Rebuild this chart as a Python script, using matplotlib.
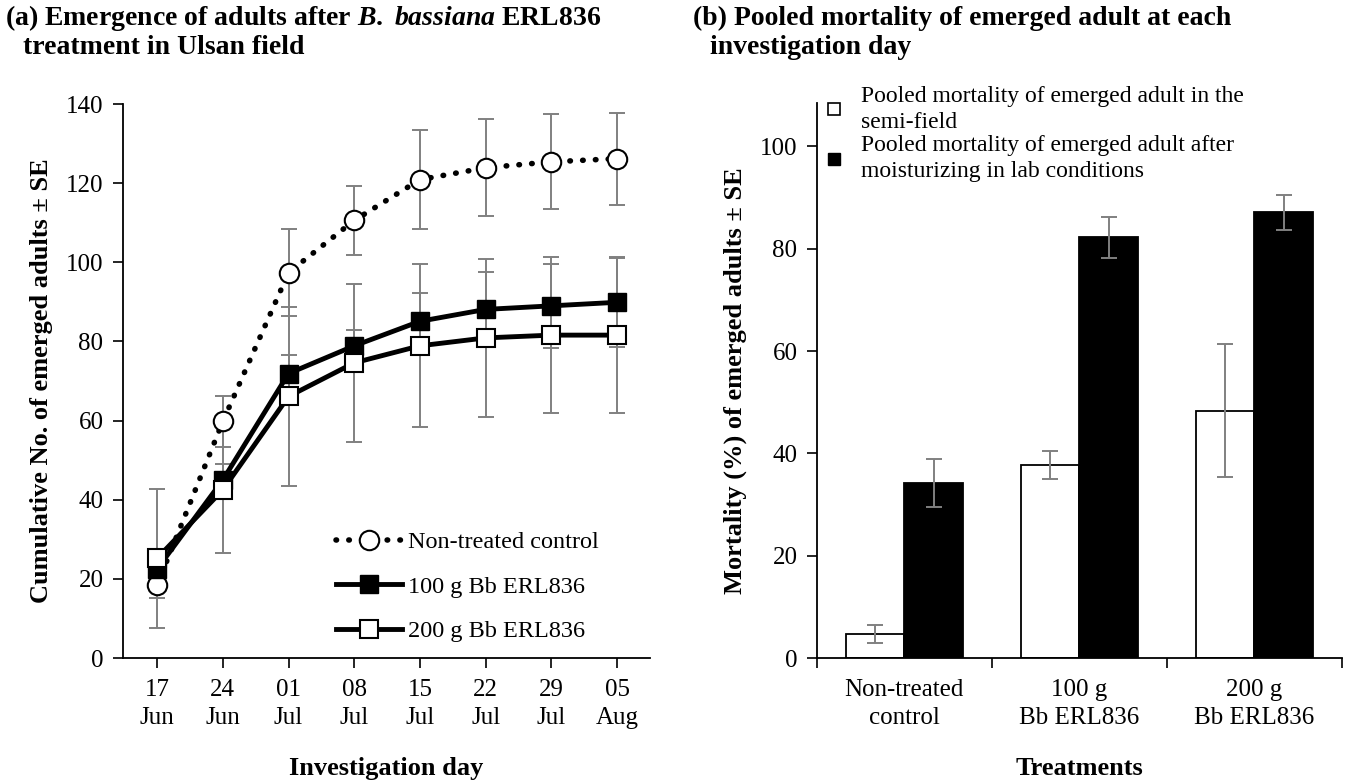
import matplotlib
matplotlib.use("Agg")
import matplotlib.pyplot as plt
from matplotlib.lines import Line2D
import numpy as np

plt.rcParams['font.family'] = ['Liberation Serif', 'DejaVu Serif']
plt.rcParams['mathtext.fontset'] = 'custom'
plt.rcParams['mathtext.rm'] = 'Liberation Serif:bold'
plt.rcParams['mathtext.it'] = 'Liberation Serif:bold:italic'
plt.rcParams['mathtext.bf'] = 'Liberation Serif:bold'

# (a) cumulative emergence
days = ['17\nJun', '24\nJun', '01\nJul', '08\nJul', '15\nJul', '22\nJul', '29\nJul', '05\nAug']
control = [18.4, 59.8, 97.4, 110.6, 120.9, 123.9, 125.4, 126.2]
control_se = [3.2, 6.5, 10.9, 8.7, 12.6, 12.3, 12.0, 11.6]
bb100 = [22.5, 45.0, 71.9, 78.9, 85.1, 88.1, 89.0, 89.9]
bb100_se = [3.0, 4.0, 4.7, 4.0, 7.1, 9.5, 10.6, 11.3]
bb200 = [25.2, 42.5, 66.1, 74.6, 78.9, 80.9, 81.6, 81.6]
bb200_se = [17.5, 16.0, 22.7, 20.0, 20.6, 20.0, 19.8, 19.7]

# (b) pooled mortality
treatments = ['Non-treated\ncontrol', '100 g\nBb ERL836', '200 g\nBb ERL836']
semi_field = [4.7, 37.7, 48.3]
semi_field_se = [1.8, 2.7, 13.0]
lab = [34.2, 82.2, 87.1]
lab_se = [4.7, 4.0, 3.4]

TICK = 18
LAB = 19

fig = plt.figure(figsize=(13.48, 7.84), dpi=100)
ax1 = fig.add_axes([0.0912, 0.1607, 0.391, 0.7066])
ax2 = fig.add_axes([0.606, 0.1607, 0.3895, 0.708])

grey = '#808080'
x = np.arange(len(days))
ekw = dict(ecolor=grey, elinewidth=1.4, capsize=6, capthick=1.4)

ax1.errorbar(x, bb200, yerr=bb200_se, fmt='none', zorder=2, **ekw)
ax1.errorbar(x, bb100, yerr=bb100_se, fmt='none', zorder=2, **ekw)
ax1.errorbar(x, control, yerr=control_se, fmt='none', zorder=2, **ekw)

ax1.plot(x, control, color='black', linestyle=(0, (0.1, 2.2)), linewidth=4,
         dash_capstyle='round', marker='o', markersize=14, markerfacecolor='white',
         markeredgecolor='black', markeredgewidth=1.5, label='Non-treated control', zorder=3)
ax1.plot(x, bb100, color='black', linewidth=3.5, marker='s', markersize=13,
         markerfacecolor='black', markeredgecolor='black', label='100 g Bb ERL836', zorder=4)
ax1.plot(x, bb200, color='black', linewidth=3.5, marker='s', markersize=13,
         markerfacecolor='white', markeredgecolor='black', markeredgewidth=1.5,
         label='200 g Bb ERL836', zorder=5)

ax1.set_xlim(-0.52, 7.5)
ax1.set_ylim(0, 140)
ax1.set_yticks(np.arange(0, 141, 20))
ax1.set_xticks(x)
ax1.set_xticklabels(days, fontsize=TICK, linespacing=1.35)
ax1.tick_params(axis='y', labelsize=TICK, direction='out', length=7, width=1.2, pad=7)
ax1.tick_params(axis='x', direction='out', length=7, width=1.2, pad=8)
for s in ['top', 'right']:
    ax1.spines[s].set_visible(False)
for s in ['left', 'bottom']:
    ax1.spines[s].set_linewidth(1.3)
ax1.set_ylabel('Cumulative No. of emerged adults ± SE', fontsize=LAB, fontweight='bold', labelpad=9)
ax1.set_xlabel('Investigation day', fontsize=LAB, fontweight='bold', labelpad=20)
ax1.legend(loc='lower left', bbox_to_anchor=(0.405, 0.028), frameon=False, fontsize=17.5,
           handlelength=2.7, handletextpad=0.25, labelspacing=0.93, borderpad=0, borderaxespad=0)

# (b)
xb = np.arange(len(treatments))
w = 0.334
ax2.bar(xb - w / 2, semi_field, w, color='white', edgecolor='black', linewidth=1.3, zorder=2)
ax2.bar(xb + w / 2, lab, w, color='black', edgecolor='black', linewidth=1.3, zorder=2)
ax2.errorbar(xb - w / 2, semi_field, yerr=semi_field_se, fmt='none', zorder=3, **ekw)
ax2.errorbar(xb + w / 2, lab, yerr=lab_se, fmt='none', zorder=3, **ekw)

ax2.set_xlim(-0.5, 2.5)
ax2.set_ylim(0, 108.5)
ax2.set_yticks(np.arange(0, 101, 20))
ax2.set_xticks([-0.5, 0.5, 1.5, 2.5])
ax2.set_xticklabels([])
ax2.set_xticks(xb, minor=True)
ax2.set_xticklabels(treatments, minor=True, fontsize=TICK, linespacing=1.35)
ax2.tick_params(axis='x', which='major', direction='out', length=7, width=1.2)
ax2.tick_params(axis='x', which='minor', length=0, pad=15)
ax2.tick_params(axis='y', labelsize=TICK, direction='out', length=7, width=1.2, pad=7)
for s in ['top', 'right']:
    ax2.spines[s].set_visible(False)
for s in ['left', 'bottom']:
    ax2.spines[s].set_linewidth(1.3)
ax2.set_ylabel('Mortality (%) of emerged adults ± SE', fontsize=LAB, fontweight='bold', labelpad=9)
ax2.set_xlabel('Treatments', fontsize=LAB, fontweight='bold', labelpad=20)

handles = [Line2D([], [], linestyle='none', marker='s', markersize=9, markerfacecolor='white',
                  markeredgecolor='black', markeredgewidth=1.2),
           Line2D([], [], linestyle='none', marker='s', markersize=9, markerfacecolor='black',
                  markeredgecolor='black')]
leg2 = ax2.legend(handles, ['Pooled mortality of emerged adult in the\nsemi-field',
                            'Pooled mortality of emerged adult after\nmoisturizing in lab conditions'],
                  loc='upper left', bbox_to_anchor=(0.01, 1.03), frameon=False, fontsize=17,
                  handlelength=1.0, handletextpad=0.65, labelspacing=0.1, borderpad=0, borderaxespad=0)
for t in leg2.get_texts():
    t.set_linespacing(1.3)

# titles
fig.text(0.004, 0.977, r'(a) Emergence of adults after $\mathit{B.\ bassiana}$ ERL836',
         fontsize=20, fontweight='bold', va='center', ha='left')
fig.text(0.017, 0.94, 'treatment in Ulsan field', fontsize=20, fontweight='bold', va='center', ha='left')
fig.text(0.514, 0.977, '(b) Pooled mortality of emerged adult at each',
         fontsize=20, fontweight='bold', va='center', ha='left')
fig.text(0.527, 0.94, 'investigation day', fontsize=20, fontweight='bold', va='center', ha='left')

fig.savefig('out.png', dpi=100)
